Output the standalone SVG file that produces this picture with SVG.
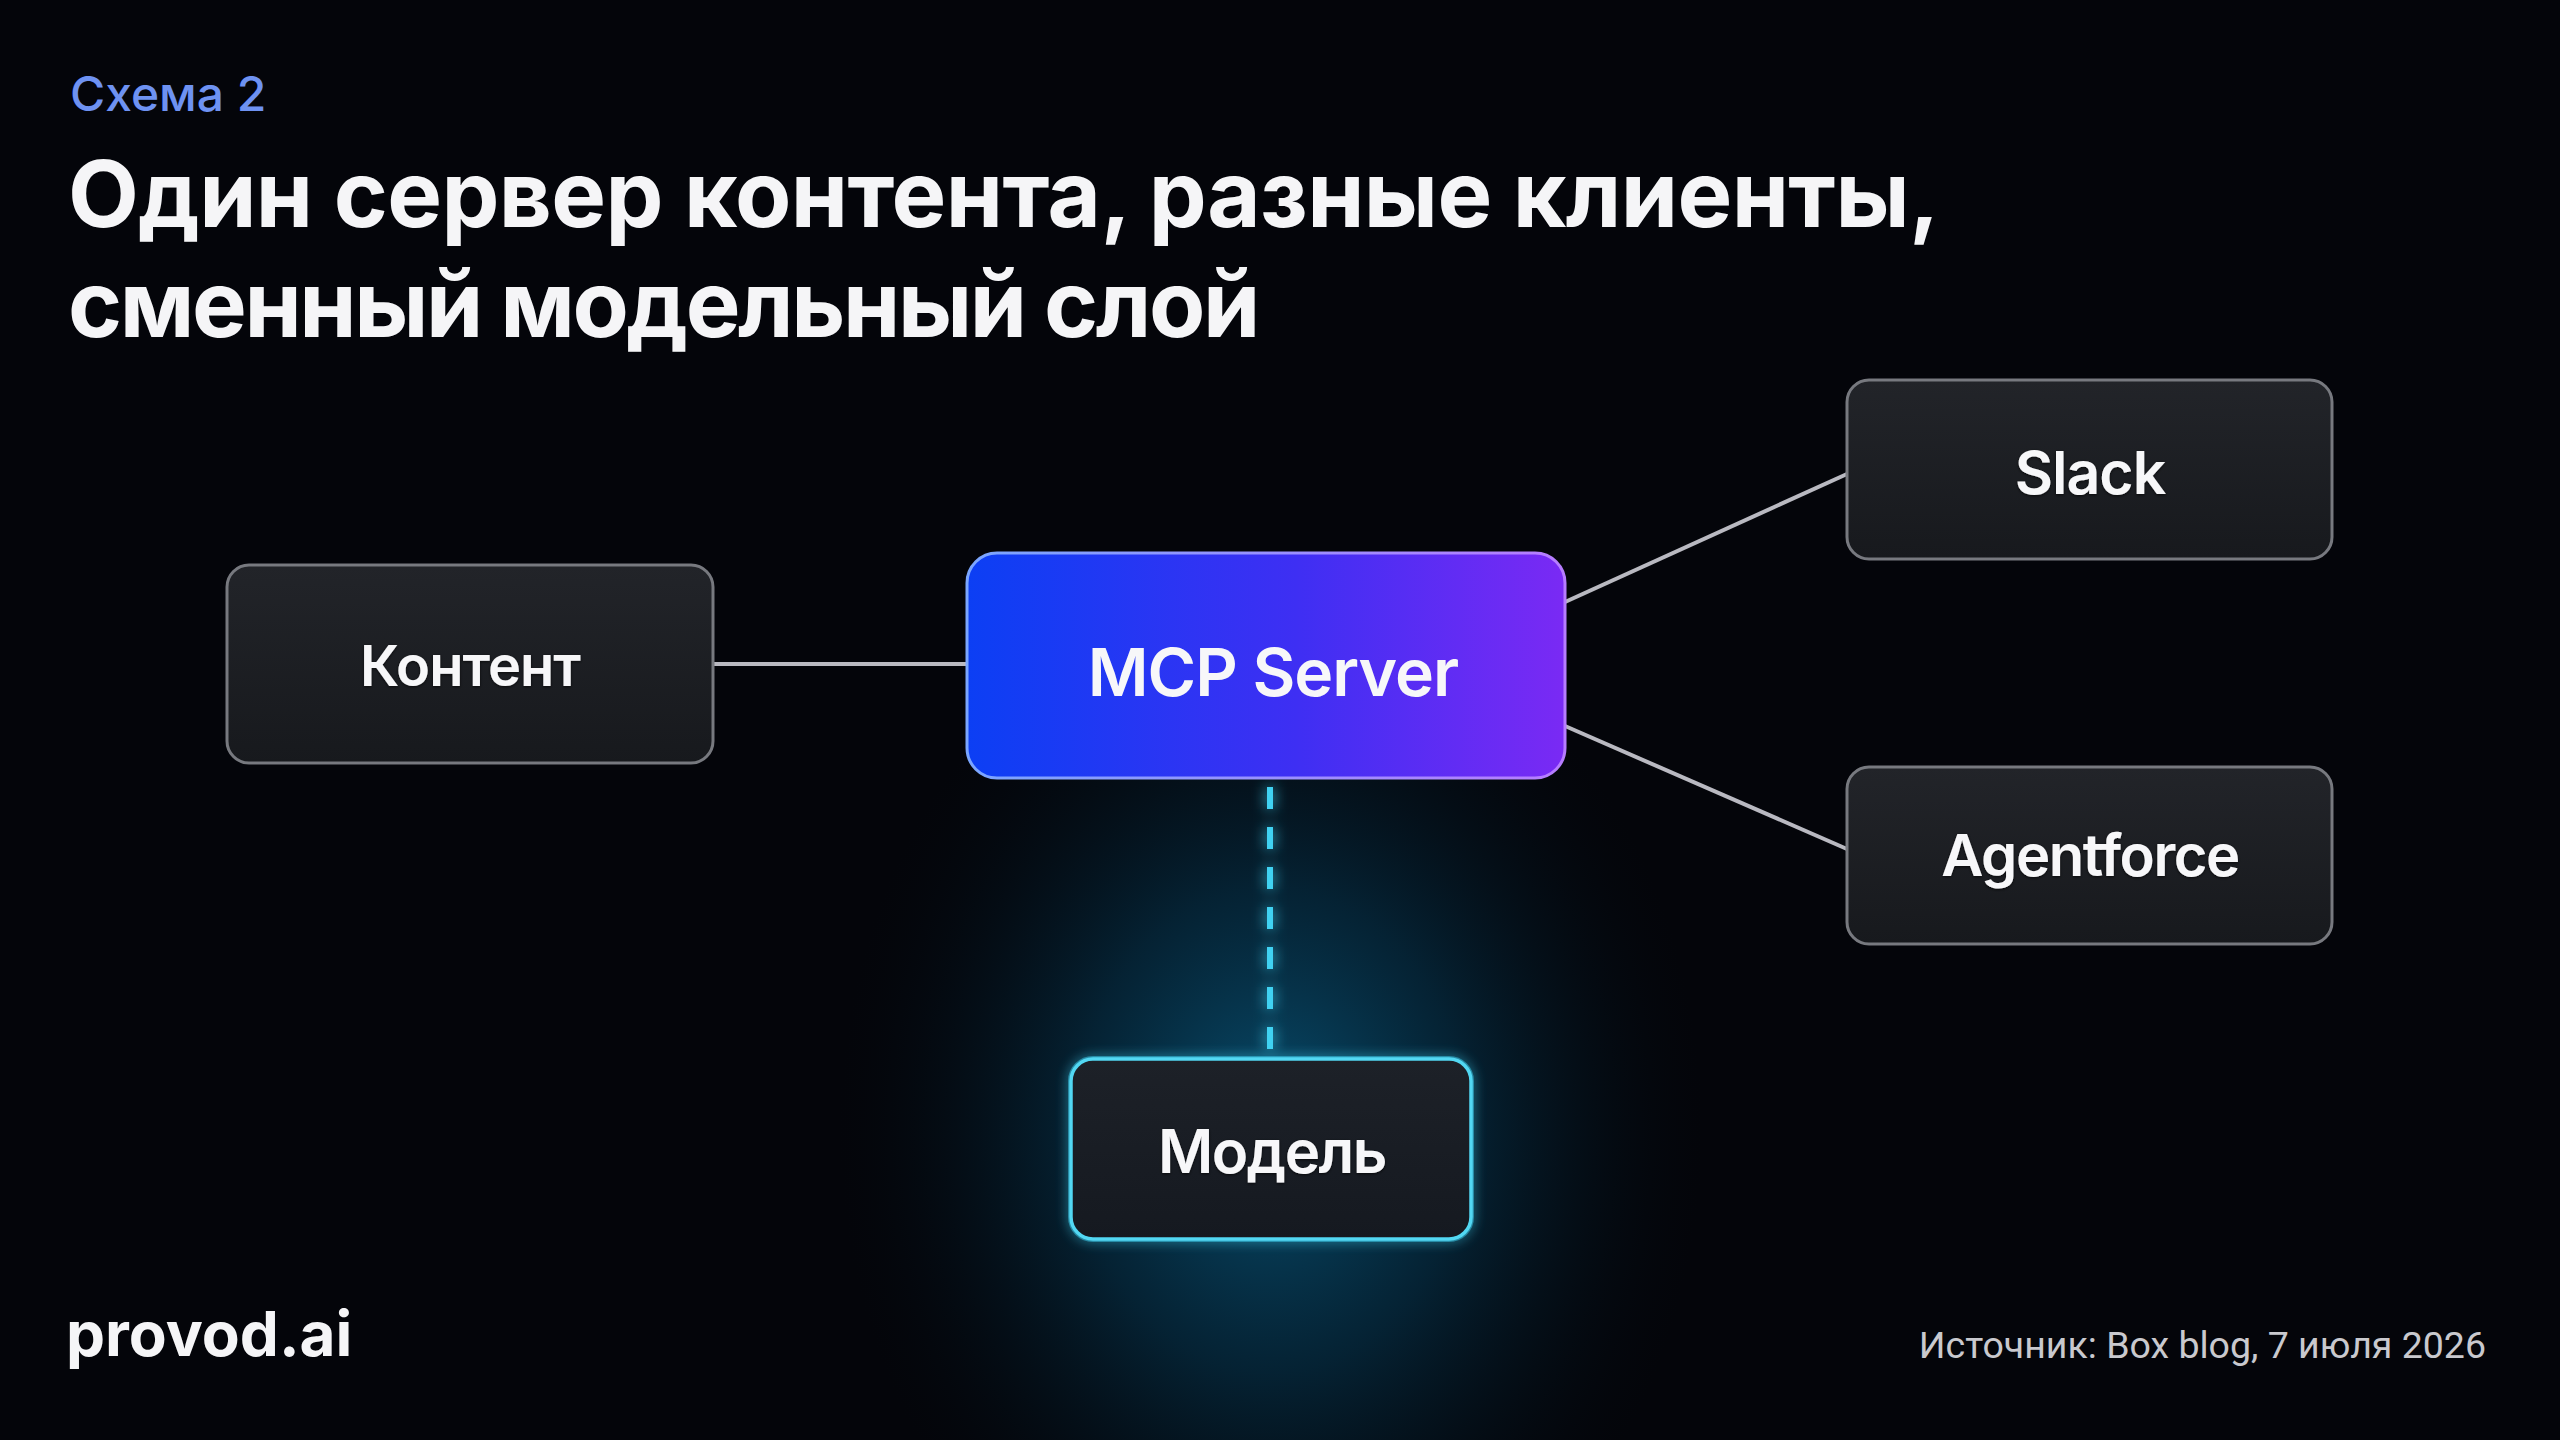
<svg xmlns="http://www.w3.org/2000/svg" width="2560" height="1440" viewBox="0 0 2560 1440">
  <defs>
    <style>
      .title { font-family: Inter, "Liberation Sans", "Noto Sans CJK SC", sans-serif; font-weight: 700; fill: #f5f5f7; }
      .kicker { font-family: Inter, "Liberation Sans", sans-serif; font-weight: 500; fill: #6e92f2; }
      .label { font-family: Inter, "Liberation Sans", sans-serif; font-weight: 600; fill: #f7f7f9; text-anchor: middle; }
      .node { fill: url(#nodeFill); stroke: #77797f; stroke-width: 3; }
      .conn { stroke: #b9b9c1; stroke-width: 4; fill: none; }
      .foot { font-family: Roboto, "Liberation Sans", sans-serif; font-weight: 400; fill: #c9c9ce; }
    </style>
    <linearGradient id="nodeFill" x1="0" y1="0" x2="0" y2="1">
      <stop offset="0" stop-color="#222429"/>
      <stop offset="1" stop-color="#17191d"/>
    </linearGradient>
    <linearGradient id="mcpFill" x1="0" y1="0" x2="1" y2="0">
      <stop offset="0" stop-color="#0c3ff4"/>
      <stop offset="0.55" stop-color="#3e2ff3"/>
      <stop offset="1" stop-color="#7a2af4"/>
    </linearGradient>
    <linearGradient id="mcpStroke" x1="0" y1="0" x2="1" y2="0">
      <stop offset="0" stop-color="#7aa6ff"/>
      <stop offset="1" stop-color="#b77cff"/>
    </linearGradient>
    <linearGradient id="modelFill" x1="0" y1="0" x2="0" y2="1">
      <stop offset="0" stop-color="#1d2128"/>
      <stop offset="1" stop-color="#151920"/>
    </linearGradient>
    <radialGradient id="glow" cx="1271" cy="1130" r="540" gradientUnits="userSpaceOnUse" gradientTransform="translate(1271 1130) scale(0.8 1) translate(-1271 -1130)">
      <stop offset="0" stop-color="#0a6f9c" stop-opacity="0.7"/>
      <stop offset="0.45" stop-color="#064a6c" stop-opacity="0.42"/>
      <stop offset="1" stop-color="#02101a" stop-opacity="0"/>
    </radialGradient>
    <filter id="cyanGlow" x="-30%" y="-30%" width="160%" height="160%">
      <feGaussianBlur in="SourceGraphic" stdDeviation="6" result="b"/>
      <feMerge><feMergeNode in="b"/><feMergeNode in="SourceGraphic"/></feMerge>
    </filter>
    <filter id="lineGlow" filterUnits="userSpaceOnUse" x="1180" y="740" width="180" height="360">
      <feGaussianBlur in="SourceGraphic" stdDeviation="7" result="b"/>
      <feMerge><feMergeNode in="b"/><feMergeNode in="SourceGraphic"/></feMerge>
    </filter>
    <filter id="textShadow" x="-10%" y="-30%" width="120%" height="160%">
      <feDropShadow dx="0" dy="1" stdDeviation="1.5" flood-color="#000" flood-opacity="0.7"/>
    </filter>
  </defs>

  <rect width="2560" height="1440" fill="#04050a"/>
  <rect x="560" y="580" width="1420" height="860" fill="url(#glow)"/>

  <text class="kicker" x="70" y="111" font-size="48">Схема 2</text>
  <text class="title" x="68" y="227" font-size="92" letter-spacing="-0.6">Один сервер контента, разные клиенты,</text>
  <text class="title" x="68" y="337" font-size="92" letter-spacing="-2.4">сменный модельный слой</text>

  <g id="connectors">
    <line class="conn" x1="713" y1="664" x2="967" y2="664"/>
    <line class="conn" x1="1565" y1="602" x2="1847" y2="474"/>
    <line class="conn" x1="1565" y1="726" x2="1847" y2="849"/>
    <line x1="1270" y1="787" x2="1270" y2="1050" stroke="#3fd2f2" stroke-width="6" stroke-dasharray="22 18" filter="url(#lineGlow)"/>
  </g>

  <g id="node-content">
    <rect class="node" x="227" y="565" width="486" height="198" rx="22"/>
    <text class="label" x="470" y="686" font-size="56" letter-spacing="-1" filter="url(#textShadow)">Контент</text>
  </g>

  <g id="node-mcp">
    <rect x="967" y="553" width="598" height="225" rx="30" fill="url(#mcpFill)" stroke="url(#mcpStroke)" stroke-width="3"/>
    <text class="label" x="1273" y="696" font-size="66" font-weight="700" letter-spacing="-1">MCP Server</text>
  </g>

  <g id="node-slack">
    <rect class="node" x="1847" y="380" width="485" height="179" rx="22"/>
    <text class="label" x="2090" y="494" font-size="59" letter-spacing="-1" filter="url(#textShadow)">Slack</text>
  </g>

  <g id="node-agentforce">
    <rect class="node" x="1847" y="767" width="485" height="177" rx="22"/>
    <text class="label" x="2090" y="876" font-size="58" letter-spacing="-1.5" filter="url(#textShadow)">Agentforce</text>
  </g>

  <g id="node-model">
    <rect x="1071" y="1059" width="400" height="180" rx="22" fill="none" stroke="#3fd2f2" stroke-width="6" opacity="0.6" filter="url(#cyanGlow)"/>
    <rect x="1071" y="1059" width="400" height="180" rx="22" fill="url(#modelFill)" stroke="#52d8f3" stroke-width="3.5"/>
    <text class="label" x="1272" y="1173" font-size="60" letter-spacing="-1.5" filter="url(#textShadow)">Модель</text>
  </g>

  <text class="title" x="66" y="1356" font-size="62">provod.ai</text>
  <text class="foot" x="2486" y="1358" font-size="37.5" text-anchor="end">Источник: Box blog, 7 июля 2026</text>
</svg>
